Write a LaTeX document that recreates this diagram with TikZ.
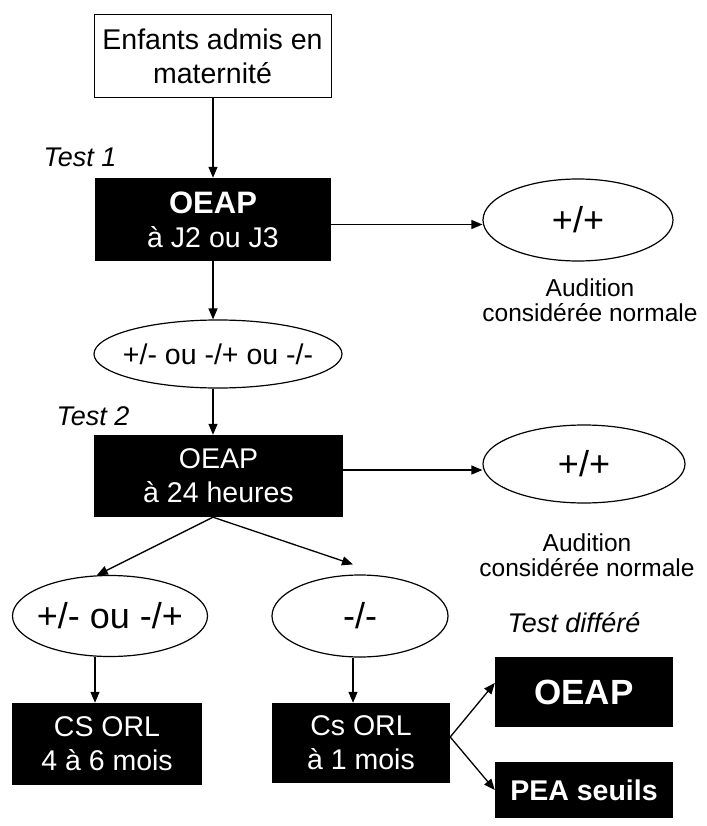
\documentclass[tikz,border=0pt]{standalone}
\usepackage{fontspec}
\setmainfont{Liberation Sans}
\usetikzlibrary{shapes.geometric,arrows.meta}

\tikzset{
  txt/.style={font=\fontsize{28.5}{34}\selectfont, align=center},
  wbox/.style={txt, draw=black, line width=1pt, inner sep=0pt},
  bbox/.style={txt, fill=black, text=white, inner sep=0pt},
  oval/.style={txt, ellipse, draw=black, line width=1.2pt, inner sep=0pt},
  note/.style={font=\fontsize{24.5}{25}\selectfont, align=center},
  testlbl/.style={font=\fontsize{27}{30}\selectfont\itshape, anchor=base},
  arr/.style={-{Triangle[length=11pt,width=9pt]}, line width=1.3pt},
}
% text whose width does not enlarge the ellipse around it
\newcommand{\ovaltext}[1]{\makebox[0pt][c]{#1}}

\begin{document}
\begin{tikzpicture}[x=1pt, y=-1pt]
  \fill[white] (0,0) rectangle (706,826);
  \useasboundingbox (0,0) rectangle (706,826);

  % first stage
  \node[wbox, minimum width=237pt, minimum height=83pt] (admis) at (212.5,56.5)
    {Enfants admis en\\maternité};
  \node[testlbl] (t1) at (80,167) {Test 1};
  \node[bbox, minimum width=236pt, minimum height=83pt] (oeap1) at (213,219.5)
    {{\fontsize{31}{34}\selectfont\bfseries OEAP}\\à J2 ou J3};
  \node[oval, minimum width=190pt, minimum height=82pt] (ok1) at (578,220)
    {\ovaltext{\fontsize{36}{36}\selectfont +/+}};
  \node[note] (n1) at (590,300) {Audition\\considérée normale};
  \node[oval, minimum width=248pt, minimum height=68pt] (res1) at (218,354)
    {\ovaltext{+/- ou -/+ ou -/-}};

  % second stage
  \node[testlbl] (t2) at (93,425) {Test 2};
  \node[bbox, minimum width=249pt, minimum height=82pt] (oeap2) at (218.5,476)
    {OEAP\\à 24 heures};
  \node[oval, minimum width=202pt, minimum height=78pt] (ok2) at (584,464)
    {\ovaltext{\fontsize{36}{36}\selectfont +/+}};
  \node[note] (n2) at (587,555) {Audition\\considérée normale};
  \node[oval, minimum width=195pt, minimum height=81pt] (res2) at (110,616)
    {\ovaltext{\fontsize{36}{36}\selectfont +/- ou -/+}};
  \node[oval, minimum width=176pt, minimum height=82pt] (res3) at (360,616)
    {\ovaltext{\fontsize{36}{36}\selectfont -/-}};

  % follow-up
  \node[bbox, minimum width=190pt, minimum height=82pt] (cs1) at (107,744)
    {CS ORL\\4 à 6 mois};
  \node[bbox, minimum width=178pt, minimum height=80pt] (cs2) at (361,743)
    {Cs ORL\\à 1 mois};
  \node[testlbl] (t3) at (574,632) {Test différé};
  \node[bbox, minimum width=178pt, minimum height=70pt] (oeap3) at (584,692)
    {\fontsize{35}{36}\selectfont\bfseries OEAP};
  \node[bbox, minimum width=178pt, minimum height=56pt] (pea) at (584,790)
    {\bfseries PEA seuils};

  % connectors
  \draw[arr] (admis.south -| oeap1.north) -- (oeap1.north);
  \draw[arr] ([yshift=-5pt]oeap1.east) -- ([yshift=-5pt]oeap1.east -| ok1.west);
  \draw[arr] (oeap1.south) -- (oeap1.south |- res1.north);
  \draw[arr] (res1.south -| oeap1.south) -- (oeap2.north -| oeap1.south);
  \draw[arr] ([yshift=6pt]oeap2.east) -- ([yshift=6pt]oeap2.east -| ok2.west);
  \draw[arr] (oeap2.south -| oeap1.south) -- (res2.108);
  \draw[arr] (oeap2.south -| oeap1.south) -- ([xshift=-7pt,yshift=10pt]res3.north);
  \draw[arr] ([xshift=-15pt]res2.south) -- ([xshift=-12pt]cs1.north);
  \draw[arr] ([xshift=-7pt]res3.south) -- ([xshift=-8pt]cs2.north);
  \draw[arr] ([yshift=6pt]cs2.east) -- ([yshift=9pt]oeap3.west);
  \draw[arr] ([yshift=6pt]cs2.east) -- (pea.west);
\end{tikzpicture}
\end{document}
